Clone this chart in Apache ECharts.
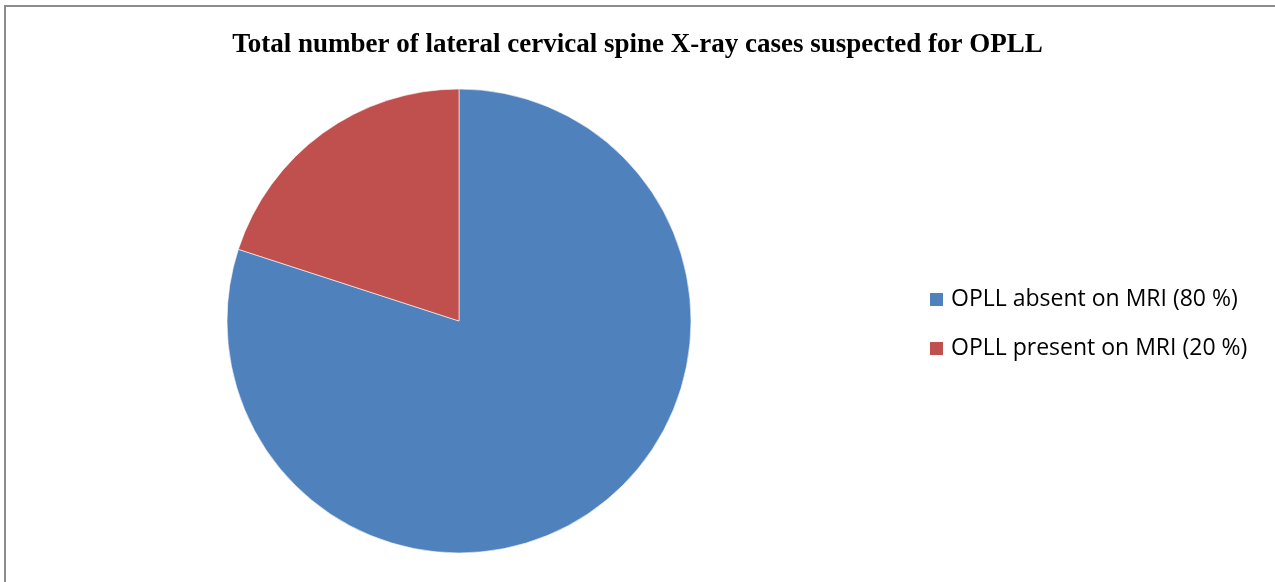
<!DOCTYPE html>
<html>
<head>
<meta charset="utf-8">
<script src="https://cdn.jsdelivr.net/npm/echarts@6/dist/echarts.min.js"></script>
<style>
  html, body { margin: 0; padding: 0; background: #fff; }
  #frame { position: absolute; left: 4px; top: 5px; width: 1275px; height: 582px;
           border-left: 2px solid #8c8c8c; border-top: 2px solid #8c8c8c; box-sizing: border-box; }
  #chart { position: absolute; left: 0; top: 0; width: 1275px; height: 582px; }
</style>
</head>
<body>
<div id="frame"></div>
<div id="chart"></div>
<script>
const titleText = 'Total number of lateral cervical spine X-ray cases suspected for OPLL';
const categories = ['OPLL absent on MRI (80 %)', 'OPLL present on MRI (20 %)'];
const values = [80, 20];
const colors = ['#4F81BD', '#C0504D'];

const chart = echarts.init(document.getElementById('chart'), null, { renderer: 'canvas' });
chart.setOption({
  animation: false,
  title: {
    text: titleText,
    left: 'center',
    top: 27,
    textStyle: { fontFamily: 'Liberation Serif', fontWeight: 'bold', fontSize: 27, color: '#000' }
  },
  legend: {
    orient: 'vertical',
    left: 923,
    top: 283,
    itemWidth: 15,
    itemHeight: 15,
    itemGap: 26,
    icon: 'rect',
    data: categories,
    textStyle: { fontFamily: 'Open Sans', fontSize: 23, color: '#000', padding: [0, 0, 0, 2] }
  },
  series: [{
    type: 'pie',
    center: [459, 321],
    radius: 232,
    startAngle: 90,
    clockwise: true,
    label: { show: false },
    labelLine: { show: false },
    emphasis: { disabled: true },
    itemStyle: { borderColor: '#ffffff', borderWidth: 0.6 },
    data: categories.map((c, i) => ({ name: c, value: values[i], itemStyle: { color: colors[i] } }))
  }]
});
</script>
</body>
</html>
